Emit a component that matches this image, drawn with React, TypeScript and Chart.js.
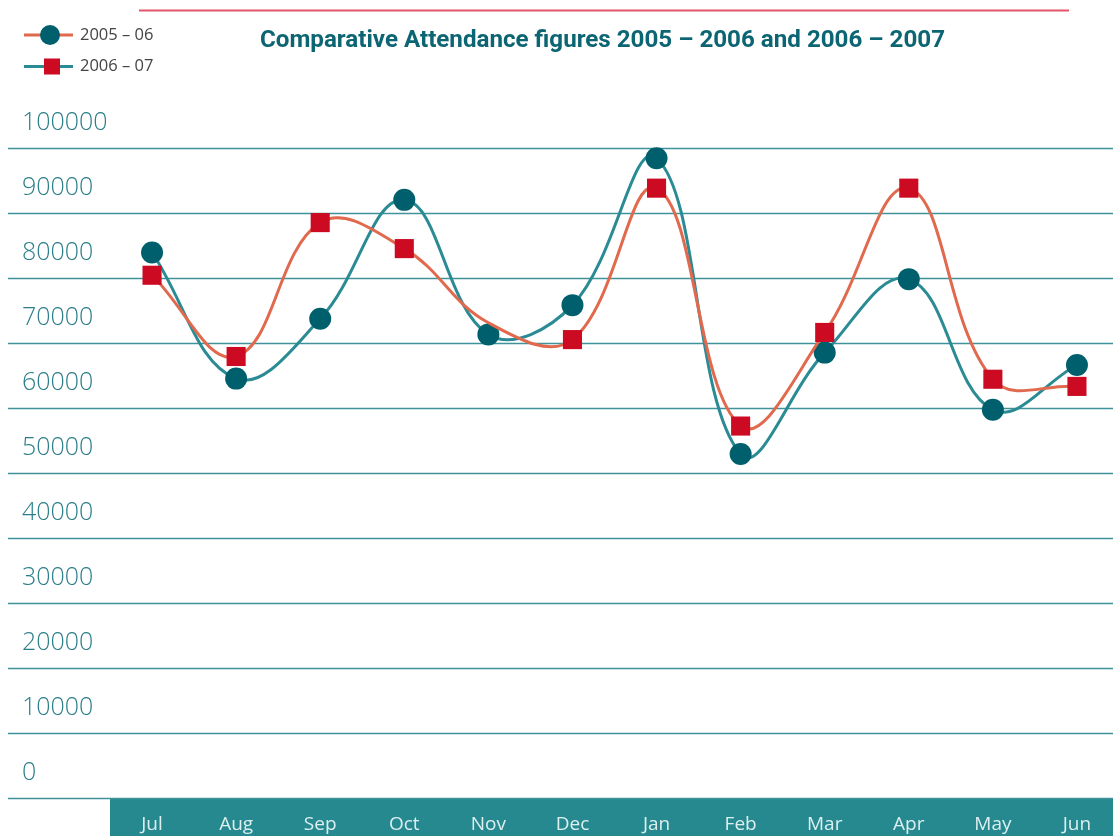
import React, { useEffect, useRef } from "react";
import { Chart, registerables } from "chart.js";

Chart.register(...registerables);

const months = ["Jul", "Aug", "Sep", "Oct", "Nov", "Dec", "Jan", "Feb", "Mar", "Apr", "May", "Jun"];
const series0506 = [80000, 60600, 69800, 88100, 67400, 71900, 94500, 49000, 64600, 75900, 55800, 62700];
const series0607 = [76500, 64000, 84600, 80600, 69200, 66600, 89900, 53300, 67700, 89900, 60500, 59400];
const markers0607 = [13.5, 13.5, 13.5, 13.5, 0, 13.5, 13.5, 13.5, 13.5, 13.5, 13.5, 13.5];
const legendLabels = ["2005 – 06", "2006 – 07"];
const titleText = "Comparative Attendance figures 2005 – 2006 and 2006 – 2007";
const yMin = 0;
const yMax = 100000;
const yStep = 10000;

const TEAL_DARK = "#005f6d";
const TEAL_LINE = "#2a8b94";
const ORANGE = "#e0694e";
const RED = "#cc0a22";
const GRID = "#3f9299";
const LABEL = "#2b7e89";
const FONT = "'Open Sans', 'Noto Sans', sans-serif";
const CANVAS_W = 1119;

const decorPlugin = {
  id: "decor",
  beforeDraw(chart: any) {
    const { ctx, chartArea } = chart;
    ctx.save();
    // x axis band
    ctx.fillStyle = "#25898f";
    ctx.fillRect(chartArea.left, 799, chart.width - chartArea.left, chart.height - 799);
    // top red rule
    ctx.strokeStyle = "#e35468";
    ctx.lineWidth = 2;
    ctx.beginPath();
    ctx.moveTo(139, 10.5);
    ctx.lineTo(1069, 10.5);
    ctx.stroke();
    // title
    ctx.fillStyle = "#0c6572";
    ctx.font = `bold 24px 'Liberation Sans Narrow', 'Roboto', sans-serif`;
    ctx.textBaseline = "middle";
    ctx.textAlign = "left";
    const w = ctx.measureText(titleText).width;
    const target = 685;
    ctx.save();
    ctx.translate(260, 41);
    ctx.scale(target / w, 1);
    ctx.fillText(titleText, 0, 0);
    ctx.restore();
    // legend
    const rows = [
      { y: 35, line: ORANGE, kind: "circle", color: TEAL_DARK, label: legendLabels[0] },
      { y: 66.5, line: TEAL_LINE, kind: "rect", color: RED, label: legendLabels[1] },
    ];
    rows.forEach((r) => {
      ctx.strokeStyle = r.line;
      ctx.lineWidth = 3;
      ctx.beginPath();
      ctx.moveTo(24, r.y);
      ctx.lineTo(73, r.y);
      ctx.stroke();
      ctx.fillStyle = r.color;
      if (r.kind === "circle") {
        ctx.beginPath();
        ctx.arc(50, r.y, 10, 0, Math.PI * 2);
        ctx.fill();
      } else {
        ctx.fillRect(44, r.y - 8, 16, 16);
      }
      ctx.fillStyle = "#444444";
      ctx.font = `16.5px ${FONT}`;
      ctx.textBaseline = "middle";
      ctx.fillText(r.label, 80, r.y);
    });
    ctx.restore();
  },
  beforeDatasetsDraw(chart: any) {
    const { ctx } = chart;
    const ys = chart.scales.y;
    ctx.save();
    ctx.strokeStyle = GRID;
    ctx.lineWidth = 1.6;
    ys.ticks.forEach((t: any) => {
      const py = Math.round(ys.getPixelForValue(t.value) + 25) + 0.5;
      ctx.beginPath();
      ctx.moveTo(8, py);
      ctx.lineTo(chart.width, py);
      ctx.stroke();
    });
    ctx.restore();
  },
};

export default function App() {
  const ref = useRef<HTMLCanvasElement | null>(null);
  useEffect(() => {
    if (!ref.current) return;
    const chart = new Chart(ref.current, {
      type: "line",
      data: {
        labels: months,
        datasets: [
          {
            label: legendLabels[1],
            data: series0607,
            borderColor: ORANGE,
            borderWidth: 3,
            tension: 0.4,
            pointStyle: "rect",
            pointRadius: markers0607,
            pointHoverRadius: markers0607,
            pointBackgroundColor: RED,
            pointBorderWidth: 0,
            clip: false,
            order: 0,
          },
          {
            label: legendLabels[0],
            data: series0506,
            borderColor: TEAL_LINE,
            borderWidth: 3,
            tension: 0.4,
            pointStyle: "circle",
            pointRadius: 11,
            pointHoverRadius: 11,
            pointBackgroundColor: TEAL_DARK,
            pointBorderWidth: 0,
            clip: false,
            order: 1,
          },
        ],
      },
      options: {
        animation: false,
        responsive: false,
        devicePixelRatio: 1,
        layout: { autoPadding: false, padding: { left: 22, top: 122.5, right: 0, bottom: 0 } },
        plugins: { legend: { display: false }, title: { display: false }, tooltip: { enabled: false } },
        scales: {
          x: {
            offset: true,
            grid: { display: false, drawTicks: false },
            border: { display: false },
            ticks: {
              color: "#dcefef",
              font: { family: FONT, size: 19, lineHeight: "105px" },
              padding: 0,
              maxRotation: 0,
              autoSkip: false,
            },
            afterFit: (s: any) => {
              s.height = 63.5;
              s.paddingLeft = 0;
              s.paddingRight = 0;
            },
          },
          y: {
            min: yMin,
            max: yMax,
            grid: { display: false, drawTicks: false },
            border: { display: false },
            ticks: {
              stepSize: yStep,
              crossAlign: "far",
              color: LABEL,
              font: { family: FONT, size: 25, weight: "300" },
              padding: 0,
              callback: (v: any) => String(v),
            },
            afterFit: (s: any) => {
              s.width = 88;
              s.paddingTop = 0;
              s.paddingBottom = 0;
            },
          },
        },
      },
      plugins: [decorPlugin],
    });
    return () => chart.destroy();
  }, []);
  return (
    <div style={{ position: "fixed", left: 0, top: 0, width: 1113, height: 836, overflow: "hidden", background: "#fff" }}>
      <canvas ref={ref} width={CANVAS_W} height={836} style={{ width: CANVAS_W, height: 836, display: "block" }} />
    </div>
  );
}
